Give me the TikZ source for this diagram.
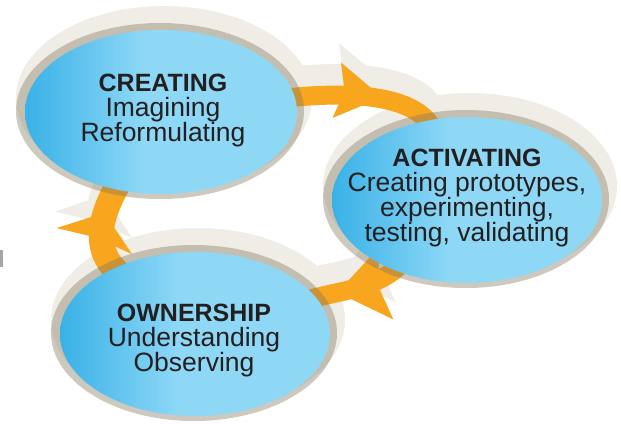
\documentclass[tikz,border=0pt]{standalone}
\usepackage{fontspec}
\setmainfont{Liberation Sans}
\usetikzlibrary{shapes.geometric,arrows.meta,decorations.markings}
\definecolor{haloC}{RGB}{239,237,230}
\definecolor{rimC}{RGB}{130,120,95}
\definecolor{bandC}{RGB}{247,166,30}
\definecolor{bL}{RGB}{57,177,231}
\definecolor{bR}{RGB}{142,216,246}
\definecolor{txtC}{RGB}{35,31,32}
\pgfdeclarehorizontalshading{discshade}{100bp}{color(0bp)=(bL); color(25bp)=(bL); color(47bp)=(bR); color(100bp)=(bR)}
\pgfdeclarelayer{halo}
\pgfdeclarelayer{band}
\pgfdeclarelayer{rim}
\pgfsetlayers{halo,band,rim,main}
\tikzset{
  face/.style={ellipse, inner sep=0pt, shade, shading=discshade, draw=none},
  rimfill/.style={fill=rimC, fill opacity=0.4},
  halofill/.style={fill=haloC},
  txtnode/.style={text=txtC, align=center, font=\fontsize{26.5}{25}\selectfont},
  bandline/.style={draw=bandC, line width=#1, shorten <=-10pt, shorten >=-10pt},
  haloline/.style={draw=haloC, line width=#1, shorten <=-10pt, shorten >=-10pt},
  tipmark/.style n args={4}{postaction={decorate}, decoration={markings,
      mark=at position #1 with {\arrow{Stealth[length=#2, width=#3, inset=#4, line width=0pt]}}}}
}
\newcommand{\hdtext}[1]{{\fontsize{25}{25}\selectfont\bfseries #1}}
\begin{document}
\begin{tikzpicture}[x=1pt,y=-1pt]
\useasboundingbox (0,0) rectangle (621,423);

% blue faces (nodes)
\node[face, minimum width=272pt, minimum height=164pt] (C) at (161,112) {};
\node[face, minimum width=270pt, minimum height=166pt] (A) at (467,200) {};
\node[face, minimum width=270pt, minimum height=164pt] (O) at (195,334) {};

% texts
\node[txtnode] (tC) at (163,111) {\hdtext{CREATING}\\Imagining\\Reformulating};
\node[txtnode] (tA) at (467,198) {\hdtext{ACTIVATING}\\Creating prototypes,\\experimenting,\\testing, validating};
\node[txtnode] (tO) at (194,341) {\hdtext{OWNERSHIP}\\Understanding\\Observing};

% halos
\begin{pgfonlayer}{halo}
  \fill[halofill] ([shift={(3,-14)}]C.center) ellipse [x radius=148, y radius=92];
  \fill[halofill] ([shift={(3,-14)}]A.center) ellipse [x radius=147, y radius=93];
  \fill[halofill] ([shift={(3,-14)}]O.center) ellipse [x radius=147, y radius=92];
  \begin{scope}[transform canvas={yshift=18pt}]
    \draw[haloline=26pt, tipmark={0.62}{48pt}{58pt}{8pt}] (C) .. controls (340,92) and (415,92) .. (A);
    \draw[haloline=26pt, tipmark={0.74}{52pt}{76pt}{9pt}] (A) .. controls (375,290) and (340,290) .. (O);
    \draw[haloline=30pt, tipmark={0.70}{32pt}{82pt}{4pt}] (O) .. controls (90,250) and (100,215) .. (C);
  \end{scope}
  \fill[gray!70] (0,250) rectangle (3,267);
\end{pgfonlayer}

% orange connectors
\begin{pgfonlayer}{band}
  \draw[bandline=19pt, tipmark={0.62}{46pt}{56pt}{8pt}] (C) .. controls (340,92) and (415,92) .. (A);
  \draw[bandline=19pt, tipmark={0.74}{50pt}{74pt}{9pt}] (A) .. controls (375,290) and (340,290) .. (O);
  \draw[bandline=25pt, tipmark={0.70}{30pt}{80pt}{4pt}] (O) .. controls (90,250) and (100,215) .. (C);
\end{pgfonlayer}

% rims
\begin{pgfonlayer}{rim}
  \fill[rimfill] ([shift={(-1,-1)}]C.center) ellipse [x radius=144, y radius=88];
  \fill[rimfill] ([shift={(-1,-1)}]A.center) ellipse [x radius=143, y radius=89];
  \fill[rimfill] ([shift={(-1,-1)}]O.center) ellipse [x radius=143, y radius=88];
\end{pgfonlayer}
\end{tikzpicture}
\end{document}
